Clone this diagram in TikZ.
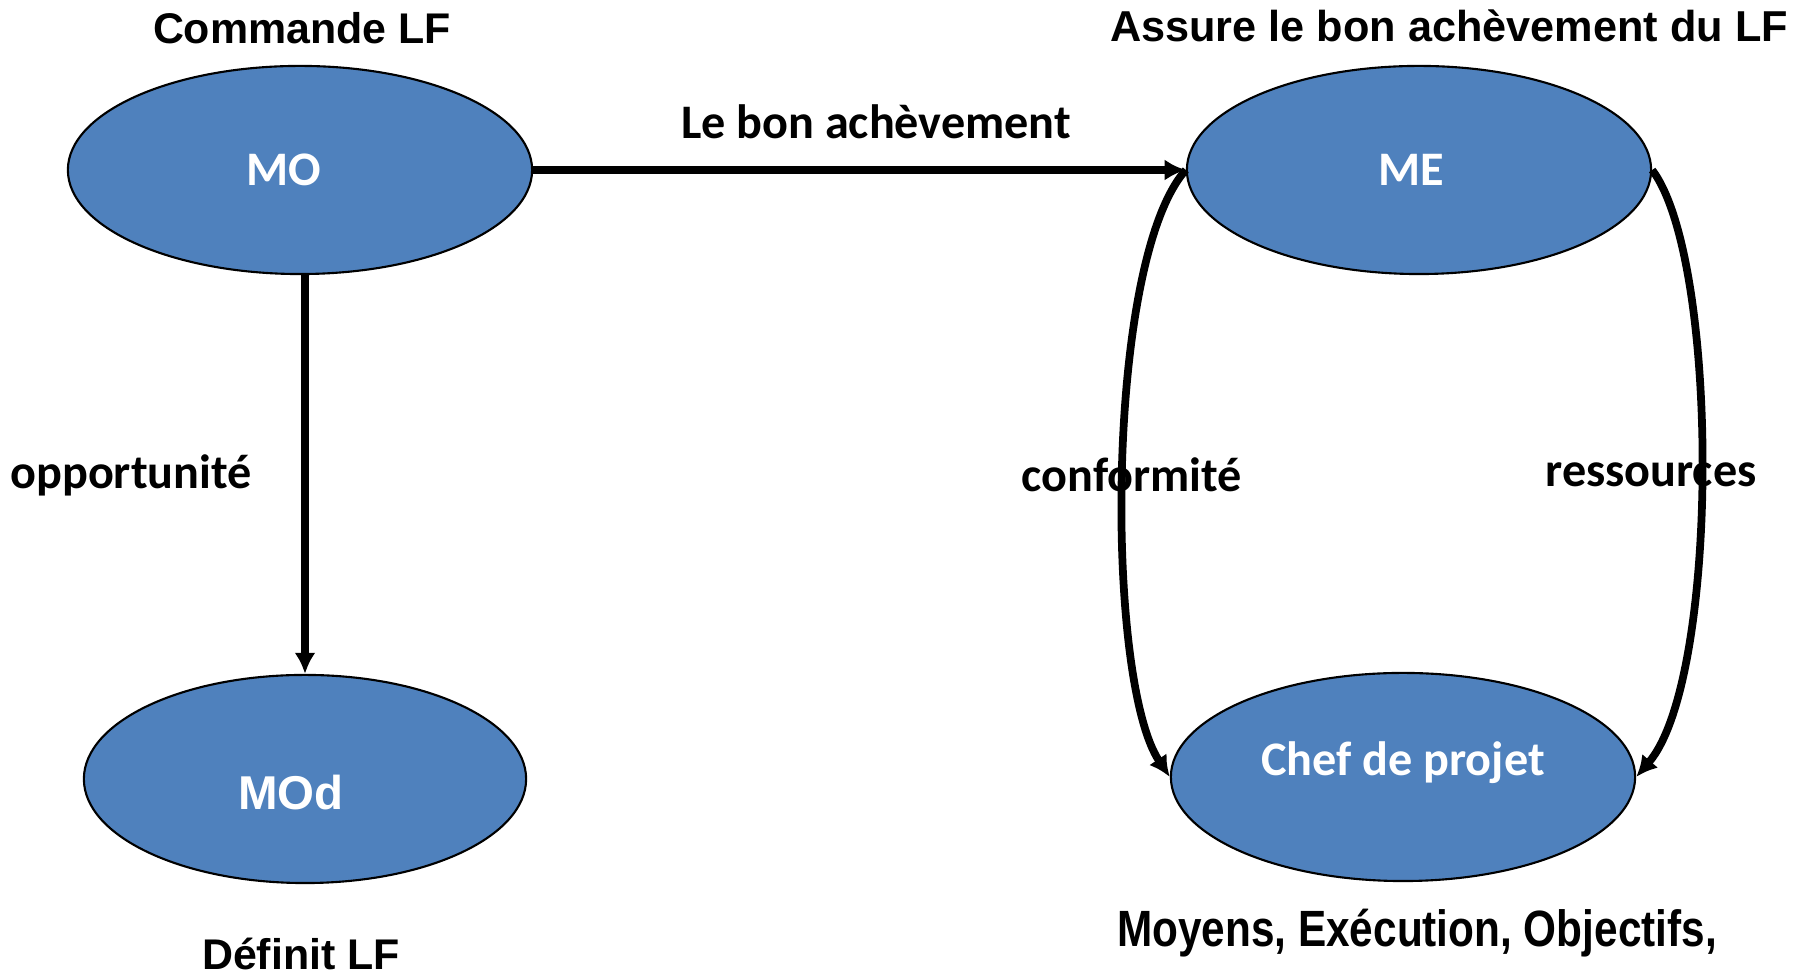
\documentclass[tikz,border=0pt]{standalone}
\usepackage{fontspec}
\setmainfont{Liberation Sans}
\newfontfamily\calfont{Carlito}
\usetikzlibrary{shapes.geometric,arrows.meta}
\definecolor{nodeblue}{HTML}{4F81BD}
\tikzset{
  blob/.style={ellipse,draw=black,line width=0.6pt,fill=nodeblue,inner sep=0pt,minimum width=4.64cm,minimum height=2.08cm},
  intxt/.style={text=white,font=\calfont\bfseries\fontsize{13.7}{16}\selectfont,inner sep=0pt},
  captxt/.style={font=\bfseries\fontsize{12.2}{14}\selectfont,inner sep=0pt},
  lbltxt/.style={font=\calfont\bfseries\fontsize{13.7}{16}\selectfont,inner sep=0pt},
  conn/.style={line width=2.2pt,-{Latex[length=6pt,width=6pt]}}
}
\begin{document}
\begin{tikzpicture}[x=0.01cm,y=-0.01cm]
\useasboundingbox (0,0) rectangle (1802,977);
% ellipses
\node[blob] (MO) at (300,170) {};
\node[blob] (ME) at (1419,170) {};
\node[blob,minimum width=4.42cm] (MOd) at (305,779) {};
\node[blob] (CP) at (1403,777) {};
% texts inside
\node[intxt] (tMO) at (284,170) {MO};
\node[intxt] (tME) at (1411,170) {ME};
\node[intxt,font=\bfseries\fontsize{13.5}{16}\selectfont] (tMOd) at (291,793) {MOd};
\node[intxt] (tCP) at (1403,763) {Chef de projet};
% captions
\node[captxt] (cMO) at (302,28) {Commande LF};
\node[captxt,font=\bfseries\fontsize{12.3}{14}\selectfont] (cME) at (1449,26) {Assure le bon achèvement du LF};
\node[captxt] (cMOd) at (301,954) {Définit LF};
\node[captxt] (cCP) at (1417,933) {\fontsize{14.5}{16}\selectfont\scalebox{0.83}[1]{Moyens, Exécution, Objectifs,}};
% labels
\node[lbltxt] (lAB) at (876,122) {Le bon achèvement};
\node[lbltxt] (lOP) at (131,475) {opportunité};
\node[lbltxt] (lCO) at (1132,475) {conformité};
\node[lbltxt] (lRE) at (1651,475) {ressources};
% connectors
\draw[conn] (MO.east) -- (ME.west);
\draw[conn] (MOd.north |- MO.south) -- (MOd.north);
\draw[conn] (ME.west) .. controls (1105,260) and (1105,680) .. (CP.west);
\draw[conn] (ME.east) .. controls (1720,260) and (1720,680) .. (CP.east);
\end{tikzpicture}
\end{document}
